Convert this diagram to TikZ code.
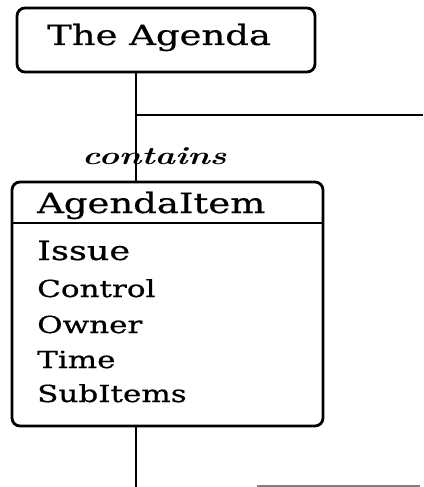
\documentclass[tikz,border=0pt]{standalone}
\usepackage{fontspec}
\usepackage{graphicx}
\newfontfamily\dvs[FakeBold=0.6]{DejaVu Serif}
\newcommand{\wid}[1]{\scalebox{1.32}[1]{#1}}
\begin{document}
\begin{tikzpicture}[x=1pt,y=-1pt,
  boxst/.style={draw,line width=2.8pt,rounded corners=8pt,inner sep=0pt},
  conn/.style={line width=1.8pt},
  ttl/.style={anchor=base west,inner sep=0pt,font=\dvs\fontsize{28}{30}\selectfont},
  attr/.style={anchor=base west,inner sep=0pt,font=\dvs\fontsize{23.5}{26}\selectfont},
  lbl/.style={anchor=base west,inner sep=0pt,font=\fontsize{25}{28}\selectfont\bfseries\itshape}]
\useasboundingbox (0,0) rectangle (423,487);
% boxes
\node[boxst,minimum width=298pt,minimum height=64pt] (agenda) at (166,40) {};
\node[boxst,minimum width=311pt,minimum height=244pt] (item) at (167.5,304) {};
\coordinate (hl) at (12,223);
\coordinate (hr) at (323,223);
\draw[line width=2.2pt] (item.west |- hl) -- (item.east |- hr);
% texts
\node[ttl] (t1) at (47,45) {\wid{The Agenda}};
\node[ttl] (t2) at (37,213) {\wid{AgendaItem}};
\node[attr,font=\dvs\fontsize{26.5}{28}\selectfont] (a1) at (37,260) {\wid{Issue}};
\node[attr] (a2) at (37,297) {\wid{Control}};
\node[attr] (a3) at (37,333) {\wid{Owner}};
\node[attr] (a4) at (37,368) {\wid{Time}};
\node[attr] (a5) at (37,402) {\wid{SubItems}};
\node[lbl] (c) at (82,164) {\scalebox{1.38}[1]{contains}};
% connectors
\coordinate (j1) at (136,115);
\coordinate (e1) at (423,115);
\coordinate (j2) at (136,487);
\coordinate (b1) at (257,486);
\coordinate (b2) at (420,486);
\draw[conn] (agenda.south -| j1) -- (item.north -| j1);
\draw[conn] (j1) -- (e1);
\draw[conn] (item.south -| j2) -- (j2);
\draw[conn,gray] (b1) -- (b2);
\end{tikzpicture}
\end{document}
